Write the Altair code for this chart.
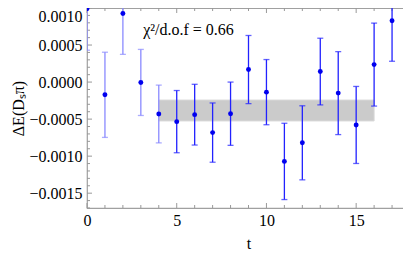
import altair as alt
import pandas as pd
import numpy as np

# ---- data ----
t_vals = list(range(19))
dE = [0.00099, -0.000172, 0.000925, -0.000005, -0.000431, -0.000534, -0.000440,
      -0.000682, -0.000427, 0.000169, -0.000136, -0.001071, -0.000820, 0.000142,
      -0.000149, -0.000579, 0.000236, 0.000827, 0.000787]
dE_err = [0.00056, 0.000575, 0.000551, 0.000446, 0.00039, 0.00042, 0.00041,
          0.00040, 0.000427, 0.00046, 0.00044, 0.000515, 0.00050, 0.00045,
          0.00056, 0.00052, 0.00056, 0.000546, 0.000506]
group = ["out"] * 5 + ["in"] * 14

band_t = [4, 16]
band_lo = -0.000525
band_hi = -0.000243

label_text = "χ²/d.o.f = 0.66"
label_t = 3.13
label_v = 0.000639

x_major = [0, 5, 10, 15]
x_minor = [i for i in range(19) if i not in x_major]
y_major = [-0.0015, -0.001, -0.0005, 0.0, 0.0005, 0.001]
y_minor = [round(v, 4) for v in np.arange(-0.0017, 0.00101, 0.0001)
           if round(v, 4) not in [round(m, 4) for m in y_major]]

XDOM = [0, 18]
YDOM = [-0.0017, 0.001]
W, H = 323, 200
FONT = "Liberation Serif"

df = pd.DataFrame({"t": t_vals, "v": dE, "err": dE_err, "g": group})
df["lo"] = df["v"] - df["err"]
df["hi"] = df["v"] + df["err"]

xs = alt.Scale(domain=XDOM, nice=False, zero=False)
ys = alt.Scale(domain=YDOM, nice=False, zero=False)

x_axis = alt.Axis(values=x_major, format="d", title="t", labelPadding=4, titlePadding=7)
y_axis = alt.Axis(values=y_major, format=".4f", title="ΔE(Dₛπ)", labelPadding=5, titlePadding=2,
                  labelOffset=alt.condition("datum.value > 0.00099", alt.value(8), alt.value(0)))

X = lambda f: alt.X(f, scale=xs, axis=x_axis)
Y = lambda f: alt.Y(f, scale=ys, axis=y_axis)

band_df = pd.DataFrame({"t1": [band_t[0]], "t2": [band_t[1]], "lo": [band_lo], "hi": [band_hi]})
band = alt.Chart(band_df).mark_rect(color="#cbcbcb", stroke="#d9d9d9", strokeWidth=1).encode(
    x=X("t1:Q"), x2="t2:Q", y=Y("lo:Q"), y2="hi:Q")

col = alt.Color("g:N", scale=alt.Scale(domain=["out", "in"], range=["#8a8aff", "#2222ff"]), legend=None)

bars = alt.Chart(df).mark_rule(strokeWidth=1.3, clip=True).encode(
    x=X("t:Q"), y=Y("lo:Q"), y2="hi:Q", color=col)
cap_lo = alt.Chart(df).mark_tick(orient="horizontal", size=6, thickness=1.3, clip=True).encode(
    x=X("t:Q"), y=Y("lo:Q"), color=col)
cap_hi = alt.Chart(df).mark_tick(orient="horizontal", size=6, thickness=1.3, clip=True).encode(
    x=X("t:Q"), y=Y("hi:Q"), color=col)
pts = alt.Chart(df).mark_circle(size=24, opacity=1, color="#0000ee", clip=True).encode(
    x=X("t:Q"), y=Y("v:Q"))

txt = alt.Chart(pd.DataFrame({"t": [label_t], "v": [label_v], "s": [label_text]})).mark_text(
    align="left", baseline="alphabetic", font=FONT, fontSize=16, color="black").encode(
    x=X("t:Q"), y=Y("v:Q"), text="s:N")

tick_color = "#999999"
xt = pd.DataFrame({"t": x_major + x_minor, "len": [5] * len(x_major) + [3] * len(x_minor)})
yt = pd.DataFrame({"v": y_major + y_minor, "len": [5] * len(y_major) + [3] * len(y_minor)})

def xticks(lenval, bottom):
    d = xt[xt["len"] == lenval]
    y0 = H if bottom else 0
    y1 = H - lenval if bottom else lenval
    return alt.Chart(d).mark_rule(color=tick_color, strokeWidth=1).encode(
        x=X("t:Q"), y=alt.value(y0), y2=alt.value(y1))

def yticks(lenval, left):
    d = yt[yt["len"] == lenval]
    x0 = 0 if left else W
    x1 = lenval if left else W - lenval
    return alt.Chart(d).mark_rule(color=tick_color, strokeWidth=1).encode(
        y=Y("v:Q"), x=alt.value(x0), x2=alt.value(x1))

tick_layers = [xticks(5, True), xticks(3, True), xticks(5, False), xticks(3, False),
               yticks(5, True), yticks(3, True), yticks(5, False), yticks(3, False)]

chart = alt.layer(band, *tick_layers, bars, cap_lo, cap_hi, pts, txt).properties(
    width=W, height=H,
    background="white",
    autosize=alt.AutoSizeParams(type="none"),
    padding={"left": 79, "top": 0, "right": -7, "bottom": 46},
).configure_view(stroke="#a0a0a0", strokeWidth=1.2).configure_axis(
    ticks=False, domain=False, grid=False,
    labelFont=FONT, labelFontSize=16, labelColor="black", labelFlush=False,
    labelOverlap=False, titleFont=FONT, titleFontSize=16, titleFontWeight="normal",
    titleColor="black",
)

chart.save("out.html", embed_options={"renderer": "svg", "actions": False})
